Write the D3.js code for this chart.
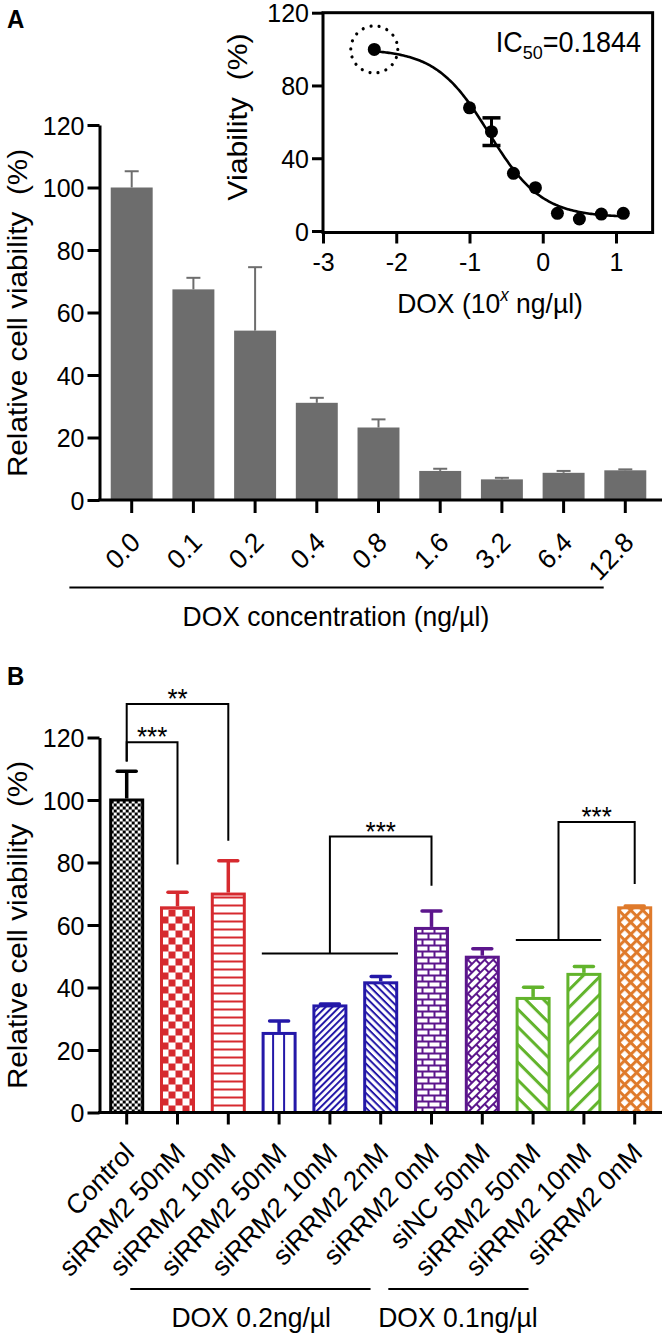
<!DOCTYPE html>
<html><head><meta charset="utf-8">
<script src="https://cdn.jsdelivr.net/npm/d3@7"></script>
<style>
body{margin:0;background:#fff}
svg{display:block}
text{font-family:"Liberation Sans",Arial,Helvetica,sans-serif;fill:#000}
</style>
</head><body>
<script>
// ---------------- DATA ----------------
// Panel A bar chart
const doseLabelsA = ["0.0","0.1","0.2","0.4","0.8","1.6","3.2","6.4","12.8"];
const viabilityA  = [100, 67.4, 54.2, 31.1, 23.2, 9.3, 6.6, 8.7, 9.5];
const errorA      = [5.2, 3.7, 20.3, 1.6, 2.6, 0.7, 0.5, 0.6, 0.3];
const yTicksA     = [0,20,40,60,80,100,120];

// Panel A inset (dose-response, log10 dose)
const logDoseInset   = [-2.3, -1.0, -0.7, -0.4, -0.1, 0.2, 0.5, 0.8, 1.1];
const viabilityInset = [99.8, 67.7, 54.6, 31.7, 23.8, 9.7, 6.6, 9.3, 9.7];
const errorInset     = [0, 0, 7.6, 0, 0, 0, 0, 0, 0];
const xTicksInset    = [-3,-2,-1,0,1];
const yTicksInset    = [0,40,80,120];
// fitted 4-parameter logistic model (IC50 = 0.1844)
const fitTop = 100, fitBottom = 7.5, fitIC50 = 0.1844, fitHill = 1.2;

// Panel B
const labelsB = ["Control","siRRM2 50nM","siRRM2 10nM","siRRM2 50nM","siRRM2 10nM","siRRM2 2nM","siRRM2 0nM","siNC 50nM","siRRM2 50nM","siRRM2 10nM","siRRM2 0nM"];
const viabilityB = [100, 65.5, 69.9, 25.3, 34.1, 41.5, 58.9, 49.7, 36.5, 44.2, 65.5];
const errorB     = [9.2, 5.0, 10.7, 4.0, 0.6, 2.0, 5.6, 2.7, 3.6, 2.5, 0.6];
const colorsB    = ["#000000","#d62a2f","#d62a2f","#2418a8","#2418a8","#2418a8","#5c168c","#5c168c","#62b42c","#62b42c","#df7a2b"];
const patternsB  = ["fineCheck","check","hLines","vLines","diagUp","diagDown","brick","diagBrick","diagDownWide","diagUpWide","diamond"];
const yTicksB    = [0,20,40,60,80,100,120];
// DOX group labels (positions in bar-index units)
const groupNames = ["DOX 0.2ng/\u00B5l","DOX 0.1ng/\u00B5l"];
const groupFrom  = [0.07, 5.15];
const groupTo    = [4.80, 7.91];
const groupTextAt= [2.45, 6.52];
// significance brackets (bar-index units, heights in %)
const sigLabels       = ["**","***","***","***"];
const sigLeft         = [0, 0, 4, 8.5];
const sigRight        = [2, 1, 6, 10];
const sigTop          = [130.7, 118.5, 88.3, 93.0];
const sigLeftBottom   = [112.3, 112.3, 50.9, 55.2];
const sigRightBottom  = [87.0, 79.4, 72.6, 73.1];
const sigBaseFrom     = [null, null, 2.66, 7.66];
const sigBaseTo       = [null, null, 5.34, 9.34];

// ---------------- DRAW ----------------
const W = 664, H = 1335, K = 1.06;
const svg = d3.select("body").append("svg").attr("width", W).attr("height", H);
const defs = svg.append("defs");
const tr = (x,y,r=0) => `translate(${x},${y}) scale(1,${K})` + (r ? ` rotate(${r})` : "");

function styleAxis(g, fs){
  g.attr("font-size", null).attr("font-family", null);
  g.selectAll(".tick line").attr("stroke","#000").attr("stroke-width",3);
  g.selectAll(".tick text").attr("font-size",fs||25).attr("fill","#000");
}

// ===== Panel A: bars =====
const gA = svg.append("g");
const xA = d3.scaleBand().domain(d3.range(doseLabelsA.length)).range([100.85, 656.15]).paddingInner(0.32).paddingOuter(0.16);
const yA = d3.scaleLinear().domain([0,120]).range([500,125]);

gA.selectAll("rect.bar").data(viabilityA).join("rect")
  .attr("x",(d,i)=>xA(i)).attr("width",xA.bandwidth())
  .attr("y",d=>yA(d)).attr("height",d=>yA(0)-yA(d)).attr("fill","#6d6d6d");
const eA = gA.selectAll("g.err").data(viabilityA).join("g");
eA.append("line").attr("x1",(d,i)=>xA(i)+xA.bandwidth()/2).attr("x2",(d,i)=>xA(i)+xA.bandwidth()/2)
  .attr("y1",d=>yA(d)).attr("y2",(d,i)=>yA(d+errorA[i])).attr("stroke","#6d6d6d").attr("stroke-width",2);
eA.append("line").attr("x1",(d,i)=>xA(i)+xA.bandwidth()/2-7).attr("x2",(d,i)=>xA(i)+xA.bandwidth()/2+7)
  .attr("y1",(d,i)=>yA(d+errorA[i])).attr("y2",(d,i)=>yA(d+errorA[i])).attr("stroke","#6d6d6d").attr("stroke-width",2);

const axYA = gA.append("g").attr("transform","translate(99.5,0)")
  .call(d3.axisLeft(yA).tickValues(yTicksA).tickSize(12).tickSizeOuter(0));
styleAxis(axYA);
axYA.select(".domain").attr("stroke","#000").attr("stroke-width",3);
axYA.selectAll(".tick text").attr("x",null).attr("dy",null).attr("transform",tr(-15,9));

gA.append("line").attr("x1",98).attr("x2",662).attr("y1",yA(0)).attr("y2",yA(0)).attr("stroke","#000").attr("stroke-width",3);
const axXA = gA.append("g").attr("transform",`translate(0,${yA(0)})`)
  .call(d3.axisBottom(xA).tickFormat(i=>doseLabelsA[i]).tickSize(13).tickSizeOuter(0));
styleAxis(axXA, 26);
axXA.select(".domain").remove();
axXA.selectAll(".tick text").attr("y",null).attr("dy",null).attr("text-anchor","end").attr("transform",tr(10,44,-45));

gA.append("line").attr("x1",xA(0)+xA.bandwidth()/2 - 1.01*xA.step()).attr("x2",xA(0)+xA.bandwidth()/2 + 7.65*xA.step())
  .attr("y1",587.5).attr("y2",587.5).attr("stroke","#000").attr("stroke-width",2);
gA.append("text").attr("text-anchor","middle").attr("font-size",26.5).attr("transform",tr(xA(0)+xA.bandwidth()/2+3.31*xA.step(),626))
  .text("DOX concentration (ng/\u00B5l)");
gA.append("text").attr("text-anchor","middle").attr("font-size",28).attr("transform",tr(27,313,-90))
  .text("Relative cell viability\u00A0\u00A0(%)");
svg.append("text").attr("font-size",24).attr("font-weight","bold").attr("transform",tr(7,28)).text("A");

// ===== Panel A: inset =====
const gI = svg.append("g");
const xI = d3.scaleLinear().domain([-3,1]).range([323,616]);
const yI = d3.scaleLinear().domain([0,120]).range([231,12.7]);
const frameRight = xI(1.5), frameBottom = 232.5;
gI.append("rect").attr("x",xI(-3)).attr("y",yI(120)).attr("width",frameRight-xI(-3)).attr("height",frameBottom-yI(120))
  .attr("fill","none").attr("stroke","#000").attr("stroke-width",3);
const axYI = gI.append("g").attr("transform",`translate(${xI(-3)},0)`)
  .call(d3.axisLeft(yI).tickValues(yTicksInset).tickSize(11).tickSizeOuter(0));
styleAxis(axYI); axYI.select(".domain").remove();
axYI.selectAll(".tick text").attr("x",null).attr("dy",null).attr("transform",tr(-14,9));
const axXI = gI.append("g").attr("transform",`translate(0,${frameBottom})`)
  .call(d3.axisBottom(xI).tickValues(xTicksInset).tickSize(11).tickSizeOuter(0).tickFormat(d=>String(d)));
styleAxis(axXI); axXI.select(".domain").remove();
axXI.selectAll(".tick text").attr("y",null).attr("dy",null).attr("transform",tr(0,38));

const fit = x => fitBottom + (fitTop-fitBottom)/(1+Math.pow(10,(x-Math.log10(fitIC50))*fitHill));
const curveX = d3.range(logDoseInset[0], logDoseInset[logDoseInset.length-1]+0.0001, 0.02);
gI.append("path").datum(curveX).attr("fill","none").attr("stroke","#000").attr("stroke-width",2.6)
  .attr("d", d3.line().x(d=>xI(d)).y(d=>yI(fit(d))));
viabilityInset.forEach((d,j)=>{
  if(!(errorInset[j]>0)) return;
  const g = gI.append("g"), cx = xI(logDoseInset[j]);
  g.append("line").attr("x1",cx).attr("x2",cx).attr("y1",yI(d-errorInset[j])).attr("y2",yI(d+errorInset[j])).attr("stroke","#000").attr("stroke-width",3);
  [d-errorInset[j], d+errorInset[j]].forEach(v=>g.append("line").attr("x1",cx-9).attr("x2",cx+9).attr("y1",yI(v)).attr("y2",yI(v)).attr("stroke","#000").attr("stroke-width",3.5));
});
gI.selectAll("circle.pt").data(viabilityInset).join("circle")
  .attr("cx",(d,i)=>xI(logDoseInset[i])).attr("cy",d=>yI(d)).attr("r",6.5).attr("fill","#000");
gI.append("circle").attr("cx",xI(logDoseInset[0])).attr("cy",yI(viabilityInset[0])).attr("r",23.5)
  .attr("fill","none").attr("stroke","#000").attr("stroke-width",3.2).attr("stroke-linecap","round").attr("stroke-dasharray","0.01 8.2");
const ic = gI.append("text").attr("text-anchor","end").attr("font-size",27).attr("transform",tr(641,52));
ic.append("tspan").text("IC");
ic.append("tspan").attr("font-size",18).attr("dy",7).text("50");
ic.append("tspan").attr("dy",-7).text("=0.1844");
const xl = gI.append("text").attr("text-anchor","middle").attr("font-size",26.5).attr("transform",tr(490,313));
xl.append("tspan").text("DOX (10");
xl.append("tspan").attr("font-size",17).attr("font-style","italic").attr("dy",-11).text("x");
xl.append("tspan").attr("dy",11).text(" ng/\u00B5l)");
gI.append("text").attr("text-anchor","middle").attr("font-size",28.5).attr("transform",tr(247,117,-90)).text("Viability\u00A0\u00A0(%)");

// ===== Panel B =====
const gB = svg.append("g");
const xB = d3.scaleBand().domain(d3.range(labelsB.length)).range([101.3, 660.1]).paddingInner(0.37).paddingOuter(0.185);
const yB = d3.scaleLinear().domain([0,120]).range([1112.5,737.5]);
const cB = i => xB(i)+xB.bandwidth()/2;
const idxB = d3.scaleLinear().domain([0,labelsB.length-1]).range([cB(0), cB(labelsB.length-1)]);

function makePattern(id, type, color, x0, y0){
  const p = defs.append("pattern").attr("id",id).attr("patternUnits","userSpaceOnUse");
  const bg = (w,h)=>p.append("rect").attr("width",w).attr("height",h).attr("fill","#fff");
  const r = (x,y,w,h)=>p.append("rect").attr("x",x).attr("y",y).attr("width",w).attr("height",h).attr("fill",color);
  const lines = (s,lw,ang,cross)=>{ p.attr("width",s).attr("height",s).attr("patternTransform",`translate(${x0},${y0}) rotate(${ang})`); bg(s,s); r(0,0,s,lw); if(cross) r(0,0,lw,s); };
  const brick = (ang)=>{ p.attr("width",12).attr("height",12).attr("patternTransform",`translate(${x0},${y0}) rotate(${ang})`); bg(12,12);
    r(0,0,12,2); r(0,6,12,2); r(0,0,2,6); r(6,6,2,6); };
  switch(type){
    case "fineCheck": p.attr("width",6).attr("height",6).attr("x",x0).attr("y",y0); bg(6,6); r(0,0,3,3); r(3,3,3,3); break;
    case "check": p.attr("width",14).attr("height",14).attr("x",x0).attr("y",y0); bg(14,14); r(0,0,7,7); r(7,7,7,7); break;
    case "hLines": lines(8,2,0); break;
    case "vLines": lines(11,2,90); break;
    case "diagUp": lines(4.8,2,-45); break;
    case "diagDown": lines(5.2,2,45); break;
    case "brick": brick(0); break;
    case "diagBrick": brick(-45); break;
    case "diagDownWide": lines(12.5,3,45); break;
    case "diagUpWide": lines(12.5,3,-45); break;
    case "diamond": lines(8.5,3,45,true); break;
  }
}
viabilityB.forEach((d,i)=>makePattern("pB"+i, patternsB[i], colorsB[i], xB(i), yB(0)));

gB.selectAll("rect.bar").data(viabilityB).join("rect")
  .attr("x",(d,i)=>xB(i)).attr("width",xB.bandwidth())
  .attr("y",d=>yB(d)).attr("height",d=>yB(0)-yB(d))
  .attr("fill",(d,i)=>`url(#pB${i})`).attr("stroke",(d,i)=>colorsB[i]).attr("stroke-width",3);
const eB = gB.selectAll("g.err").data(viabilityB).join("g");
eB.append("line").attr("x1",(d,i)=>cB(i)).attr("x2",(d,i)=>cB(i))
  .attr("y1",d=>yB(d)-1.5).attr("y2",(d,i)=>yB(d+errorB[i])).attr("stroke",(d,i)=>colorsB[i]).attr("stroke-width",3.5);
eB.append("line").attr("x1",(d,i)=>cB(i)-9.5).attr("x2",(d,i)=>cB(i)+9.5)
  .attr("y1",(d,i)=>yB(d+errorB[i])).attr("y2",(d,i)=>yB(d+errorB[i])).attr("stroke",(d,i)=>colorsB[i]).attr("stroke-width",3.5).attr("stroke-linecap","round");

const axYB = gB.append("g").attr("transform","translate(99.5,0)")
  .call(d3.axisLeft(yB).tickValues(yTicksB).tickSize(12).tickSizeOuter(0));
styleAxis(axYB);
axYB.select(".domain").attr("stroke","#000").attr("stroke-width",3);
axYB.selectAll(".tick text").attr("x",null).attr("dy",null).attr("transform",tr(-15,9));
gB.append("line").attr("x1",98).attr("x2",662).attr("y1",yB(0)).attr("y2",yB(0)).attr("stroke","#000").attr("stroke-width",3);
const axXB = gB.append("g").attr("transform",`translate(0,${yB(0)})`)
  .call(d3.axisBottom(xB).tickFormat(i=>labelsB[i]).tickSize(12).tickSizeOuter(0));
styleAxis(axXB, 26);
axXB.select(".domain").remove();
axXB.selectAll(".tick text").attr("y",null).attr("dy",null).attr("text-anchor","end").attr("transform",tr(9,42,-45));

// significance brackets
sigLabels.forEach((lab,k)=>{
  const xl = idxB(sigLeft[k]), xr = idxB(sigRight[k]);
  const pts = [[xl,yB(sigLeftBottom[k])],[xl,yB(sigTop[k])],[xr,yB(sigTop[k])],[xr,yB(sigRightBottom[k])]];
  gB.append("path").attr("d",d3.line()(pts)).attr("fill","none").attr("stroke","#000").attr("stroke-width",2);
  if(sigBaseFrom[k]!==null){
    gB.append("line").attr("x1",idxB(sigBaseFrom[k])).attr("x2",idxB(sigBaseTo[k]))
      .attr("y1",yB(sigLeftBottom[k])).attr("y2",yB(sigLeftBottom[k])).attr("stroke","#000").attr("stroke-width",2);
  }
  gB.append("text").attr("text-anchor","middle").attr("font-size",26).attr("transform",tr((xl+xr)/2, yB(sigTop[k])+4)).text(lab);
});

// group labels
groupNames.forEach((name,k)=>{
  gB.append("line").attr("x1",idxB(groupFrom[k])).attr("x2",idxB(groupTo[k])).attr("y1",1289).attr("y2",1289).attr("stroke","#000").attr("stroke-width",2);
  gB.append("text").attr("text-anchor","middle").attr("font-size",26.5).attr("transform",tr(idxB(groupTextAt[k]),1327)).text(name);
});
gB.append("text").attr("text-anchor","middle").attr("font-size",28).attr("transform",tr(27,925,-90))
  .text("Relative cell viability\u00A0\u00A0(%)");
svg.append("text").attr("font-size",24).attr("font-weight","bold").attr("transform",tr(7,685)).text("B");
</script>
</body></html>
